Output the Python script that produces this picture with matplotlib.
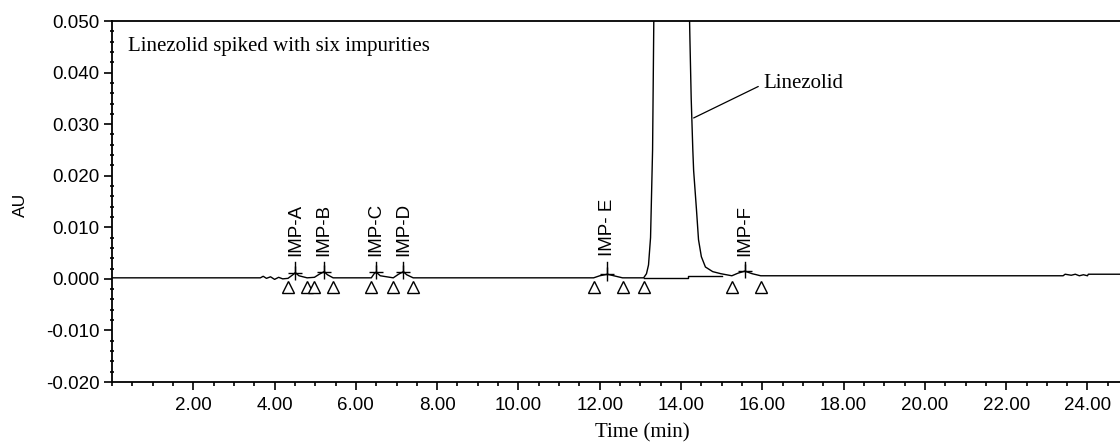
"""
Linezolid spiked with six impurities - HPLC chromatogram
"""
import numpy as np
import matplotlib
matplotlib.use('Agg')
import matplotlib.pyplot as plt
from matplotlib.ticker import MultipleLocator, FixedLocator, FormatStrFormatter

plt.rcParams['font.family'] = ['Liberation Sans', 'DejaVu Sans']

# chromatogram trace (time in min, absorbance in AU)
time_min = [0.0, 3.65, 3.72, 3.80, 3.90, 4.00, 4.10, 4.20, 4.33, 4.45, 4.51, 4.60, 4.80,
            4.98, 5.10, 5.22, 5.30, 5.44, 6.38, 6.45, 6.50, 6.60, 6.92, 7.05, 7.17, 7.25,
            7.41, 11.85, 12.00, 12.19, 12.40, 12.56, 13.08, 13.15, 13.20, 13.25, 13.30,
            13.33, 13.50, 13.72, 13.95, 14.21, 14.22, 14.25, 14.29, 14.31, 14.38, 14.43,
            14.50, 14.60, 14.78, 14.98, 15.25, 15.40, 15.57, 15.75, 15.96, 23.40, 23.45,
            23.60, 23.70, 23.80, 23.90, 24.00, 24.02, 24.80]
absorb_au = [0.0002, 0.0002, 0.0005, 0.0001, 0.0004, -0.0001, 0.0003, 0.0000, 0.0001,
             0.0008, 0.0012, 0.0006, 0.0002, 0.0003, 0.0009, 0.0014, 0.0008, 0.0002,
             0.0002, 0.0010, 0.0013, 0.0006, 0.0002, 0.0009, 0.0014, 0.0008, 0.0002,
             0.0002, 0.0006, 0.0009, 0.0005, 0.0002, 0.0002, 0.0010, 0.0027, 0.0080,
             0.0250, 0.0500, 0.5000, 0.9000, 0.5000, 0.0500, 0.0460, 0.0350, 0.0250,
             0.0210, 0.0134, 0.0076, 0.0043, 0.0023, 0.0014, 0.0010, 0.0006, 0.0011,
             0.0015, 0.0010, 0.0006, 0.0006, 0.0009, 0.0007, 0.0009, 0.0006, 0.0008,
             0.0006, 0.0009, 0.0009]

# integration baseline under the main peak
base_time = [13.08, 14.16, 14.16, 15.00]
base_au = [0.0002, 0.0002, 0.0006, 0.0006]

# peak start / end marks (triangles)
mark_time = [4.33, 4.80, 4.98, 5.44, 6.38, 6.92, 7.41, 11.85, 12.56, 13.08, 15.25, 15.96]
mark_au = -0.0016

# impurity peaks (apex)
imp_names = ['IMP-A', 'IMP-B', 'IMP-C', 'IMP-D', 'IMP- E', 'IMP-F']
imp_time = [4.51, 5.22, 6.50, 7.17, 12.19, 15.57]
imp_au = [0.0012, 0.0014, 0.0013, 0.0014, 0.0009, 0.0015]

x_ticks = np.arange(2, 25, 2)
y_ticks = np.arange(-0.02, 0.0501, 0.01)

fig = plt.figure(figsize=(11.2, 4.47), dpi=100)
ax = fig.add_axes([0.1, 0.1454, 0.9, 0.8076])

ax.plot(time_min, absorb_au, color='black', linewidth=1.0)
ax.plot(base_time, base_au, color='black', linewidth=1.0)
ax.plot(mark_time, [mark_au] * len(mark_time), linestyle='none', marker='^',
        markersize=9, markerfacecolor='white', markeredgecolor='black', markeredgewidth=1.0)
ax.plot(imp_time, imp_au, linestyle='none', marker='+', markersize=10,
        color='black', markeredgewidth=1.0)

for name, t, a in zip(imp_names, imp_time, imp_au):
    ax.plot([t, t], [a, 0.0033], color='black', linewidth=1.0)
    ax.text(t, 0.0045, name, rotation=90, ha='center', va='bottom', fontsize=13.5)

ax.annotate('Linezolid', xy=(14.31, 0.0312), xytext=(16.03, 0.0378),
            fontsize=15, family='Liberation Serif', ha='left', va='center',
            arrowprops=dict(arrowstyle='-', color='black', lw=0.9,
                            relpos=(0, 0.5), shrinkA=2, shrinkB=0))

ax.text(0.016, 0.93, 'Linezolid spiked with six impurities', transform=ax.transAxes,
        fontsize=15, family='Liberation Serif', ha='left', va='center')

ax.set_xlim(0, 24.8)
ax.set_ylim(-0.02, 0.05)
ax.xaxis.set_major_locator(FixedLocator(x_ticks))
ax.xaxis.set_minor_locator(MultipleLocator(0.5))
ax.yaxis.set_major_locator(FixedLocator(y_ticks))
ax.yaxis.set_minor_locator(MultipleLocator(0.002))
ax.xaxis.set_major_formatter(FormatStrFormatter('%.2f'))
ax.yaxis.set_major_formatter(FormatStrFormatter('%.3f'))
ax.tick_params(axis='both', which='major', labelsize=13.5, length=6, width=1.2,
               direction='out')
ax.tick_params(axis='x', which='minor', length=3, width=1.2, direction='out')
ax.tick_params(axis='y', which='minor', length=3, width=1.2, direction='inout')
ax.tick_params(axis='y', which='major', pad=3)
ax.tick_params(axis='x', which='major', pad=5)

for side in ['left', 'bottom', 'top']:
    ax.spines[side].set_linewidth(1.3)
ax.spines['right'].set_visible(False)

ax.set_xlabel('Time (min)', fontsize=15, family='Liberation Serif')
ax.xaxis.set_label_coords(0.526, -0.141)
ax.xaxis.label.set_va('center')
ax.set_ylabel('AU', fontsize=12.5)
ax.yaxis.set_label_coords(-0.091, 0.49)
ax.yaxis.label.set_va('center')

plt.savefig('out.png', dpi=100)
plt.close()
